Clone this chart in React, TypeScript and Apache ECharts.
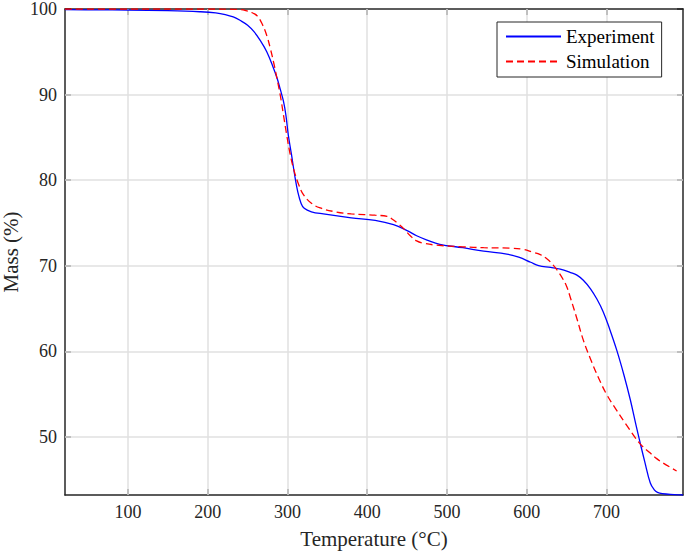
import React, { useEffect, useRef } from "react";
import * as echarts from "echarts";

const expT = [21, 60, 100, 150, 190, 210, 222, 232, 241, 250, 258, 266, 274, 282, 287, 291, 295, 298, 301, 305, 309, 313, 317, 321, 330, 345, 380, 410, 433, 450, 462, 475, 491, 520, 546, 575, 590, 605, 615, 630, 642, 655, 663, 671, 680, 688, 696, 704, 713, 722, 730, 737, 742, 748, 755, 760, 764, 770, 785, 796];
const expM = [99.92, 99.9, 99.88, 99.8, 99.68, 99.55, 99.35, 99.07, 98.65, 98.1, 97.35, 96.3, 95.0, 93.2, 91.9, 90.6, 89.2, 87.6, 85.3, 83.0, 80.6, 78.6, 77.3, 76.7, 76.3, 76.05, 75.6, 75.3, 74.8, 74.1, 73.5, 73.0, 72.5, 72.1, 71.7, 71.35, 71.0, 70.4, 70.0, 69.8, 69.6, 69.2, 68.9, 68.3, 67.3, 66.1, 64.6, 62.6, 60.1, 57.2, 54.3, 51.4, 49.4, 47.1, 44.6, 43.8, 43.5, 43.35, 43.25, 43.2];

const simT = [21, 100, 200, 240, 250, 257, 262, 268, 274, 279, 283, 287, 291, 295, 299, 303, 308, 314, 320, 330, 341, 360, 380, 410, 425, 432, 440, 446, 454, 462, 472, 487, 520, 546, 580, 596, 607, 617, 626, 633, 638, 645, 650, 655, 663, 671, 680, 690, 700, 712, 725, 742, 755, 763, 770, 788];
const simM = [100, 100, 100, 99.95, 99.75, 99.5, 99.2, 98.3, 96.9, 95.2, 93.6, 91.8, 89.9, 87.6, 85.3, 83.2, 81.2, 79.5, 78.3, 77.3, 76.75, 76.3, 76.05, 75.9, 75.75, 75.4, 74.8, 74.3, 73.5, 72.9, 72.6, 72.4, 72.2, 72.1, 72.05, 71.9, 71.6, 71.3, 70.75, 70.1, 69.5, 68.5, 67.6, 66.2, 63.8, 61.3, 59.1, 56.9, 55.0, 53.2, 51.4, 49.2, 48.1, 47.45, 47.0, 46.0];

const xTicks = [100, 200, 300, 400, 500, 600, 700];
const yTicks = [50, 60, 70, 80, 90, 100];
const xMin = 21;
const xMax = 796;
const yMin = 43.2;
const yMax = 100;

const FONT = "Liberation Serif";
const AX = "#262626";
const GRIDC = "#e0e0e0";

export default function App() {
  const ref = useRef<HTMLDivElement>(null);
  useEffect(() => {
    const chart = echarts.init(ref.current!, undefined, { renderer: "svg" });
    const axisCommon = {
      type: "value" as const,
      axisLine: { show: true, onZero: false, lineStyle: { color: AX, width: 1.5 } },
      splitLine: { show: false },
    };
    const gridLines = [
      ...xTicks.map((v) => ({ xAxis: v })),
      ...yTicks.filter((v) => v < yMax).map((v) => ({ yAxis: v })),
    ];
    chart.setOption({
      animation: false,
      backgroundColor: "#ffffff",
      textStyle: { fontFamily: FONT },
      grid: { left: 65, right: 2, top: 9, bottom: 56, containLabel: false, outerBoundsMode: "none" },
      xAxis: [
        {
          ...axisCommon,
          position: "bottom",
          min: xMin,
          max: xMax,
          name: "Temperature (°C)",
          nameLocation: "middle",
          nameGap: 33,
          nameTextStyle: { fontFamily: FONT, fontSize: 21, color: AX },
          axisTick: { show: true, inside: true, length: 6, customValues: xTicks, lineStyle: { color: AX, width: 1.5 } },
          axisLabel: { show: true, customValues: xTicks, margin: 8, fontFamily: FONT, fontSize: 18, color: AX },
        },
        {
          ...axisCommon,
          position: "top",
          min: xMin,
          max: xMax,
          axisTick: { show: true, inside: true, length: 6, customValues: xTicks, lineStyle: { color: AX, width: 1.5 } },
          axisLabel: { show: false },
        },
      ],
      yAxis: [
        {
          ...axisCommon,
          position: "left",
          min: yMin,
          max: yMax,
          name: "Mass (%)",
          nameLocation: "middle",
          nameGap: 43,
          nameMoveOverlap: false,
          nameTextStyle: { fontFamily: FONT, fontSize: 21, color: AX, lineHeight: 22 },
          axisTick: { show: true, inside: true, length: 6, customValues: yTicks, lineStyle: { color: AX, width: 1.5 } },
          axisLabel: { show: true, customValues: yTicks, margin: 8, fontFamily: FONT, fontSize: 18, color: AX },
        },
        {
          ...axisCommon,
          position: "right",
          min: yMin,
          max: yMax,
          axisTick: { show: true, inside: true, length: 6, customValues: yTicks, lineStyle: { color: AX, width: 1.5 } },
          axisLabel: { show: false },
        },
      ],
      legend: {
        show: true,
        orient: "vertical",
        left: 497,
        top: 22,
        padding: [5, 7, 6, 8],
        itemGap: 6,
        itemWidth: 55,
        itemHeight: 14,
        backgroundColor: "#ffffff",
        borderColor: AX,
        borderWidth: 1,
        borderRadius: 0,
        itemStyle: { color: "rgba(0,0,0,0)", borderColor: "rgba(0,0,0,0)", borderWidth: 0, opacity: 0 },
        textStyle: { fontFamily: FONT, fontSize: 19, color: "#000000" },
        data: ["Experiment", "Simulation"],
      },
      series: [
        {
          name: "Experiment",
          type: "line",
          xAxisIndex: 0,
          yAxisIndex: 0,
          symbol: "none",
          smooth: 0.4,
          z: 3,
          lineStyle: { color: "#0000ff", width: 1.3 },
          itemStyle: { color: "#0000ff" },
          data: expT.map((t, i) => [t, expM[i]]),
          markLine: {
            silent: true,
            symbol: "none",
            z: 1,
            label: { show: false },
            lineStyle: { color: GRIDC, type: "solid", width: 1.5 },
            emphasis: { disabled: true },
            data: gridLines,
          },
        },
        {
          name: "Simulation",
          type: "line",
          xAxisIndex: 0,
          yAxisIndex: 0,
          symbol: "none",
          smooth: 0.4,
          z: 4,
          lineStyle: { color: "#ff0000", width: 1.3, type: [7, 4] },
          itemStyle: { color: "#ff0000" },
          data: simT.map((t, i) => [t, simM[i]]),
        },
      ],
    });
    return () => chart.dispose();
  }, []);
  return (
    <div
      ref={ref}
      style={{ position: "fixed", left: 0, top: 0, width: 685, height: 551 }}
    />
  );
}
